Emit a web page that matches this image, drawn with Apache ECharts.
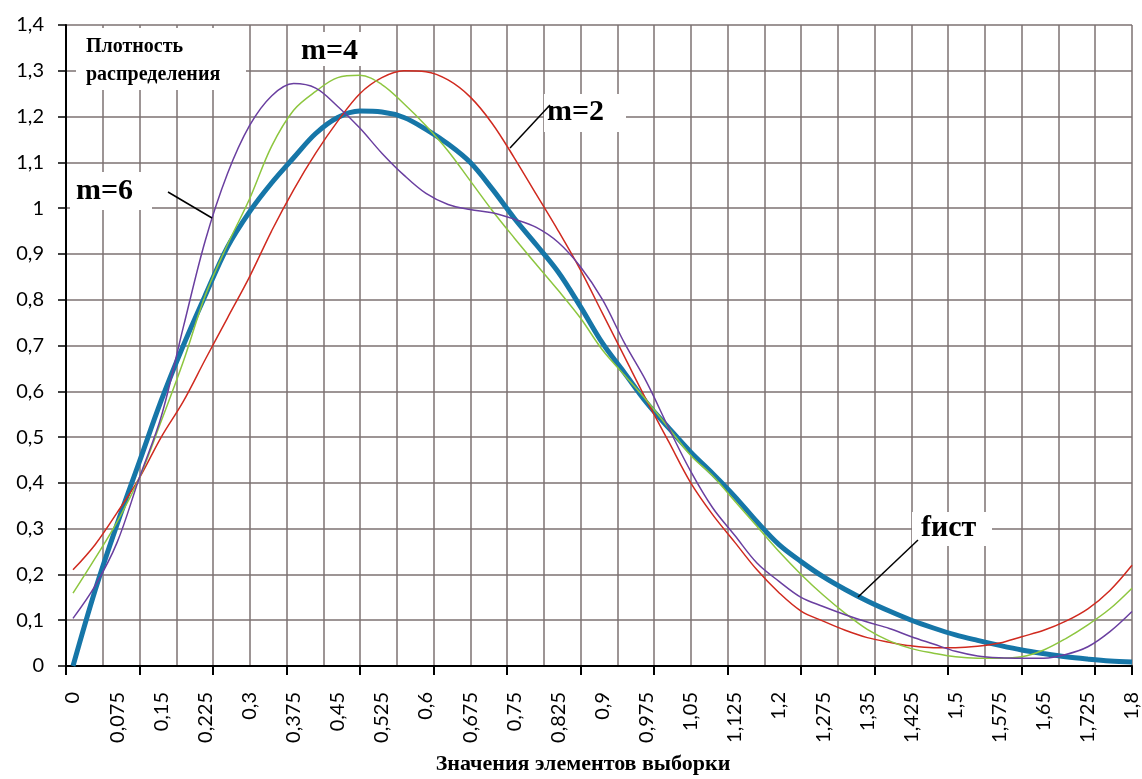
<!DOCTYPE html>
<html><head><meta charset="utf-8">
<script src="https://cdn.jsdelivr.net/npm/echarts@6/dist/echarts.min.js"></script>
<style>html,body{margin:0;padding:0;background:#fff}#c{width:1142px;height:779px}</style>
</head><body><div id="c"></div>
<script>
// x categories (step 0,0375; every second one is labelled)
const xCategories = ['0','0,0375','0,075','0,1125','0,15','0,1875','0,225','0,2625','0,3','0,3375','0,375','0,4125','0,45','0,4875','0,525','0,5625','0,6','0,6375','0,675','0,7125','0,75','0,7875','0,825','0,8625','0,9','0,9375','0,975','1,0125','1,05','1,0875','1,125','1,1625','1,2','1,2375','1,275','1,3125','1,35','1,3875','1,425','1,4625','1,5','1,5375','1,575','1,6125','1,65','1,6875','1,725','1,7625','1,8'];
// background grid columns (29 cells)
const gridColumns = ['','','','','','','','','','','','','','','','','','','','','','','','','','','','',''];
const fHist = [0,0.165,0.31,0.445,0.58,0.70,0.81,0.915,0.992,1.055,1.11,1.163,1.198,1.212,1.21,1.198,1.172,1.14,1.1,1.042,0.978,0.92,0.86,0.785,0.705,0.64,0.575,0.52,0.467,0.42,0.37,0.315,0.265,0.228,0.195,0.167,0.142,0.12,0.1,0.083,0.068,0.056,0.045,0.035,0.027,0.02,0.015,0.011,0.009];
const m2 = [0.21,0.265,0.335,0.41,0.50,0.578,0.67,0.76,0.85,0.95,1.04,1.12,1.19,1.25,1.285,1.30,1.298,1.28,1.243,1.185,1.11,1.03,0.95,0.865,0.77,0.675,0.58,0.49,0.40,0.33,0.27,0.21,0.16,0.12,0.098,0.078,0.062,0.052,0.044,0.04,0.04,0.043,0.05,0.064,0.078,0.098,0.125,0.165,0.22];
const m4 = [0.159,0.235,0.315,0.41,0.535,0.665,0.81,0.92,1.02,1.135,1.214,1.255,1.285,1.29,1.27,1.228,1.18,1.125,1.06,0.995,0.935,0.877,0.82,0.76,0.69,0.635,0.58,0.52,0.46,0.415,0.36,0.305,0.25,0.20,0.155,0.115,0.08,0.055,0.038,0.028,0.02,0.017,0.017,0.02,0.035,0.06,0.09,0.125,0.17];
const m6 = [0.104,0.175,0.27,0.41,0.545,0.74,0.93,1.075,1.18,1.245,1.272,1.262,1.222,1.175,1.12,1.072,1.032,1.008,0.997,0.99,0.976,0.958,0.925,0.872,0.80,0.705,0.62,0.52,0.425,0.345,0.285,0.225,0.185,0.15,0.13,0.112,0.096,0.082,0.064,0.048,0.032,0.022,0.018,0.017,0.017,0.025,0.042,0.075,0.119];
const yTickLabels = {0:'0',0.1:'0,1',0.2:'0,2',0.3:'0,3',0.4:'0,4',0.5:'0,5',0.6:'0,6',0.7:'0,7',0.8:'0,8',0.9:'0,9',1:'1',1.1:'1,1',1.2:'1,2',1.3:'1,3',1.4:'1,4'};

const chart = echarts.init(document.getElementById('c'), null, {renderer:'canvas'});
const gridColor = '#7d7272';
const serif = '"Liberation Serif", "Times New Roman", serif';
function box(x,y,w,h){return {type:'rect',z:100,shape:{x:x,y:y,width:w,height:h},style:{fill:'#fff'}};}
function txt(x,y,t,size,weight,align){return {type:'text',z:101,x:x,y:y,style:{text:t,font:(weight||'normal')+' '+size+'px '+serif,fill:'#000',textAlign:align||'left',textVerticalAlign:'middle'}};}
function seg(x1,y1,x2,y2){return {type:'line',z:101,shape:{x1:x1,y1:y1,x2:x2,y2:y2},style:{stroke:'#000',lineWidth:1.5}};}

chart.setOption({
  animation:false,
  grid:[
    {left:73,right:10,top:25,bottom:113},
    {left:66,right:10,top:25,bottom:113}
  ],
  xAxis:[
    {gridIndex:0,type:'category',data:xCategories,boundaryGap:false,
     axisLine:{show:false},axisTick:{show:false},splitLine:{show:false},
     axisLabel:{interval:1,rotate:90,margin:26,fontFamily:'Lato',fontSize:20,color:'#000'}},
    {gridIndex:1,type:'category',data:gridColumns,boundaryGap:true,
     axisLine:{show:true,lineStyle:{color:'#000',width:2}},
     axisTick:{show:true,interval:1,length:9,lineStyle:{color:'#000',width:2}},
     axisLabel:{show:false},
     splitLine:{show:true,interval:0,lineStyle:{color:gridColor,width:1.5}}}
  ],
  yAxis:[
    {gridIndex:0,type:'value',min:0,max:1.4,interval:0.1,show:false},
    {gridIndex:1,type:'value',min:0,max:1.4,interval:0.1,
     axisLine:{show:true,lineStyle:{color:'#000',width:2}},
     axisTick:{show:true,length:8,lineStyle:{color:'#000',width:1.5}},
     splitLine:{show:true,lineStyle:{color:gridColor,width:1.5}},
     axisLabel:{margin:22,fontFamily:'Lato',fontSize:20,color:'#000',
       formatter:function(v){const k=Math.round(v*10)/10;return yTickLabels[k]!==undefined?yTickLabels[k]:String(k).replace('.',',');}}}
  ],
  series:[
    {type:'line',xAxisIndex:0,yAxisIndex:0,data:fHist,smooth:0.35,showSymbol:false,z:3,lineStyle:{color:'#1676a8',width:5}},
    {type:'line',xAxisIndex:0,yAxisIndex:0,data:m2,smooth:0.35,showSymbol:false,z:4,lineStyle:{color:'#d02a1f',width:1.5}},
    {type:'line',xAxisIndex:0,yAxisIndex:0,data:m4,smooth:0.35,showSymbol:false,z:4,lineStyle:{color:'#8dc63f',width:1.5}},
    {type:'line',xAxisIndex:0,yAxisIndex:0,data:m6,smooth:0.35,showSymbol:false,z:4,lineStyle:{color:'#6a3fa0',width:1.5}}
  ],
  graphic:[
    box(76,28,170,62),
    txt(86,47,'Плотность',20,'bold'),
    txt(86,75,'распределения',20,'bold'),
    box(295,32,76,34),
    txt(301,51,'m=4',30,'bold'),
    box(544,94,82,38),
    txt(547,112,'m=2',30,'bold'),
    box(70,172,82,38),
    txt(76,191,'m=6',30,'bold'),
    box(912,512,80,34),
    txt(921,528,'fист',30,'bold'),
    seg(550,105,510,148),
    seg(168,192,212,218),
    seg(918,540,858,597),
    txt(583,764,'Значения элементов выборки',22,'bold','center')
  ]
});
</script></body></html>
